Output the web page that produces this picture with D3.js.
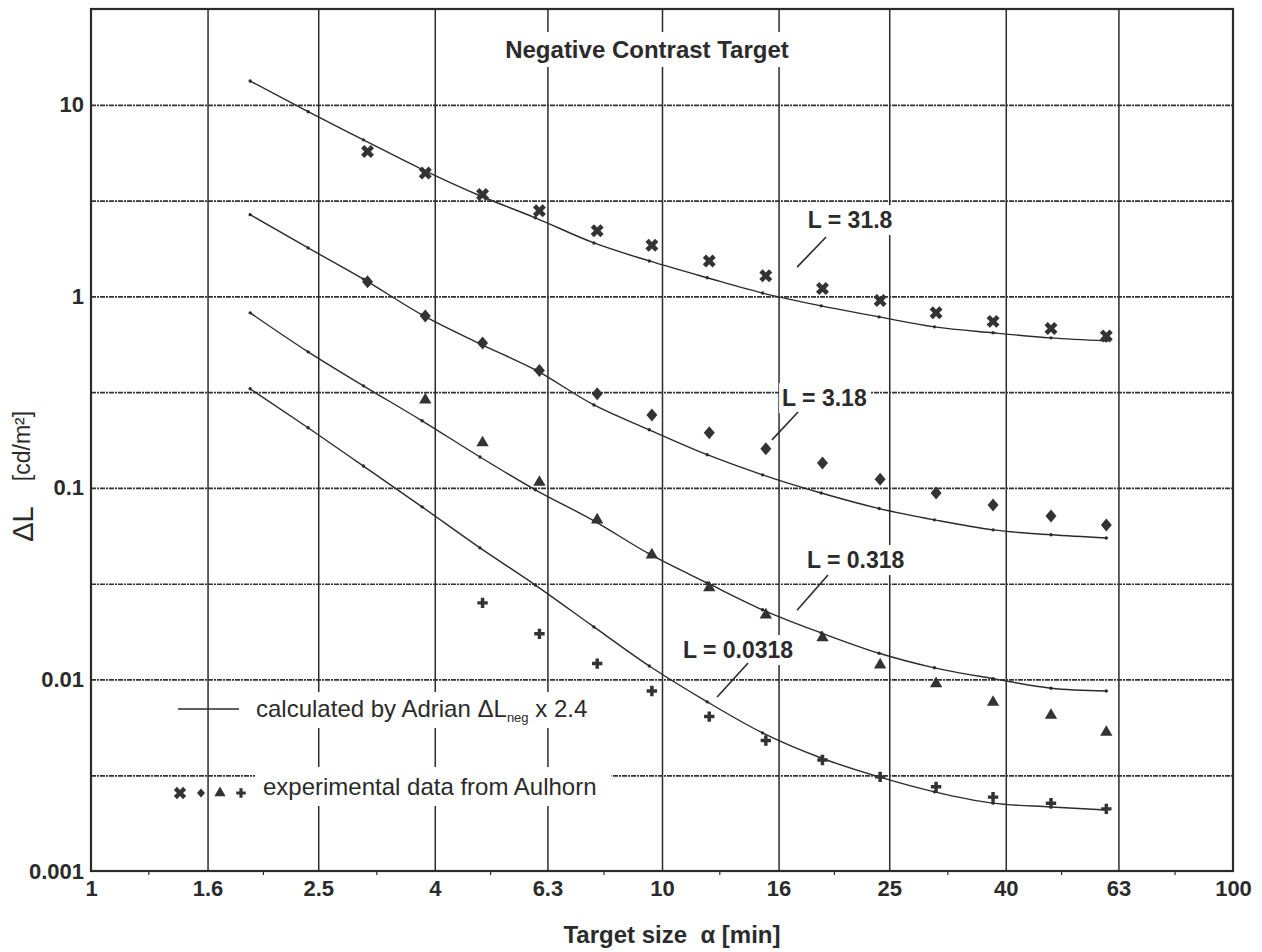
<!DOCTYPE html>
<html>
<head>
<meta charset="utf-8">
<script src="https://cdn.jsdelivr.net/npm/d3@7"></script>
<style>
  body { margin: 0; background: #fff; }
  svg { display: block; font-family: "Liberation Sans", Arial, sans-serif; }
</style>
</head>
<body>
<svg id="chart" width="1262" height="952"></svg>
<script>
// target size alpha [min] for the calculated curves and for the measured points
const calcX = [1.9, 2.4, 3.0, 3.8, 4.8, 6.0, 7.6, 9.5, 12, 15, 19, 24, 30, 38, 48, 60]
const expX = [3.05, 3.85, 4.85, 6.1, 7.7, 9.6, 12.1, 15.2, 19.1, 24.1, 30.2, 38, 48, 60]

// calculated by Adrian, dL_neg x 2.4
const calc31_8 = [13.3, 9.2, 6.56, 4.6, 3.35, 2.57, 1.9, 1.53, 1.25, 1.04, 0.892, 0.781, 0.693, 0.645, 0.607, 0.586]
const calc3_18 = [2.67, 1.79, 1.23, 0.80, 0.565, 0.413, 0.271, 0.201, 0.149, 0.117, 0.094, 0.078, 0.0681, 0.0604, 0.0569, 0.0548]
const calc0_318 = [0.82, 0.513, 0.341, 0.224, 0.145, 0.0977, 0.0673, 0.0452, 0.0319, 0.0231, 0.0175, 0.0137, 0.0115, 0.0101, 0.0090, 0.0087]
const calc0_0318 = [0.329, 0.206, 0.130, 0.0796, 0.0486, 0.0311, 0.0188, 0.01175, 0.00764, 0.00526, 0.00389, 0.0031, 0.00259, 0.00226, 0.00216, 0.00208]

// experimental data from Aulhorn
const exp31_8 = [5.7, 4.4, 3.4, 2.8, 2.2, 1.85, 1.53, 1.28, 1.1, 0.95, 0.82, 0.74, 0.68, 0.62]
const exp3_18 = [1.19, 0.79, 0.57, 0.41, 0.31, 0.24, 0.194, 0.16, 0.135, 0.111, 0.094, 0.0815, 0.0714, 0.064]
const exp0_318 = [null, 0.288, 0.172, 0.107, 0.068, 0.0447, 0.0301, 0.0217, 0.0165, 0.0119, 0.0095, 0.0076, 0.0065, 0.0053]
const exp0_0318 = [null, null, 0.0251, 0.0173, 0.0121, 0.0087, 0.0064, 0.0048, 0.0038, 0.0031, 0.00275, 0.00243, 0.00226, 0.00211]

const xTicks = [1, 1.6, 2.5, 4, 6.3, 10, 16, 25, 40, 63, 100]
const xMinor = [1.26, 2, 3.16, 5, 7.9, 12.6, 20, 31.6, 50, 79]
const yTicks = [0.001, 0.01, 0.1, 1, 10]
const yHalf = [0.00316, 0.0316, 0.316, 3.16]

// curve labels, placed in data units
const labels = [
  {text: "L = 31.8", x: 18.0, y: 2.50, from: [17.24, 1.42], to: [19.38, 2.04]},
  {text: "L = 3.18", x: 16.23, y: 0.294, from: [15.58, 0.178], to: [17.31, 0.249]},
  {text: "L = 0.318", x: 17.94, y: 0.042, from: [17.24, 0.023], to: [19.53, 0.0351]},
  {text: "L = 0.0318", x: 10.88, y: 0.01425, from: [12.49, 0.0081], to: [14.15, 0.01219]}
]

const pLeft = 91, pRight = 1233, pTop = 9, pBottom = 871
const ink = "#2b2b2b"

const svg = d3.select("#chart")
svg.append("rect").attr("width", 1262).attr("height", 952).attr("fill", "#fff")

const x = d3.scaleLog().domain([1, 100]).range([pLeft, pRight])
const y = d3.scaleLog().domain([0.001, Math.pow(10, 1.5)]).range([pBottom, pTop])

// grid
const grid = svg.append("g")
grid.append("g")
  .attr("transform", "translate(0," + pBottom + ")")
  .call(d3.axisBottom(x).tickValues(xTicks.slice(1, -1)).tickSize(-(pBottom - pTop)).tickFormat(""))
  .call(g => g.select(".domain").remove())
  .selectAll("line").attr("stroke", ink).attr("stroke-width", 1.5)

grid.append("g")
  .attr("transform", "translate(" + pLeft + ",0)")
  .call(d3.axisLeft(y).tickValues(yTicks.slice(1).concat(yHalf)).tickSize(-(pRight - pLeft)).tickFormat(""))
  .call(g => g.select(".domain").remove())
  .selectAll("line")
    .attr("stroke", "#333").attr("stroke-width", 1.7)
    .attr("stroke-dasharray", "5,1,2,1")

// white patches behind texts (filled later)
const masks = svg.append("g")

// minor ticks along the bottom
svg.append("g")
  .attr("transform", "translate(0," + pBottom + ")")
  .call(d3.axisBottom(x).tickValues(xMinor).tickSize(4).tickFormat(""))
  .call(g => g.select(".domain").remove())
  .selectAll("line").attr("stroke", ink).attr("stroke-width", 1.2)

// frame
svg.append("rect")
  .attr("x", pLeft).attr("y", pTop)
  .attr("width", pRight - pLeft).attr("height", pBottom - pTop)
  .attr("fill", "none").attr("stroke", ink).attr("stroke-width", 2.2)

// tick labels
svg.append("g")
  .attr("transform", "translate(0," + pBottom + ")")
  .call(d3.axisBottom(x).tickValues(xTicks).tickSize(0).tickPadding(9).tickFormat(d => d))
  .call(g => g.select(".domain").remove())
  .selectAll("text")
    .attr("font-size", 22).attr("font-weight", "bold").attr("fill", ink)
    .style("font-family", "Liberation Sans, Arial, sans-serif")

svg.append("g")
  .attr("transform", "translate(" + pLeft + ",0)")
  .call(d3.axisLeft(y).tickValues(yTicks).tickSize(0).tickPadding(7).tickFormat(d => d))
  .call(g => g.select(".domain").remove())
  .selectAll("text")
    .attr("font-size", 22).attr("font-weight", "bold").attr("fill", ink)
    .style("font-family", "Liberation Sans, Arial, sans-serif")

// calculated curves
const line = d3.line()
  .x(d => x(d[0]))
  .y(d => y(d[1]))
  .curve(d3.curveMonotoneX)

const calcSeries = [calc31_8, calc3_18, calc0_318, calc0_0318]
calcSeries.forEach(vals => {
  const pts = calcX.map((v, i) => [v, vals[i]])
  svg.append("path")
    .attr("d", line(pts))
    .attr("fill", "none").attr("stroke", ink).attr("stroke-width", 1.4)
  svg.append("g").selectAll("circle")
    .data(pts).join("circle")
    .attr("cx", d => x(d[0])).attr("cy", d => y(d[1]))
    .attr("r", 1.7).attr("fill", ink)
})

// experimental points
const diamond = (w, h) => "M0," + (-h) + "L" + w + ",0L0," + h + "L" + (-w) + ",0Z"
const shapes = [
  {vals: exp31_8, d: d3.symbol(d3.symbolCross, 105)(), rot: 45},
  {vals: exp3_18, d: diamond(5.5, 6.5), rot: 0},
  {vals: exp0_318, d: d3.symbol(d3.symbolTriangle, 66)(), rot: 0},
  {vals: exp0_0318, d: d3.symbol(d3.symbolCross, 60)(), rot: 0}
]
shapes.forEach(s => {
  const pts = expX.map((v, i) => [v, s.vals[i]]).filter(d => d[1] != null)
  svg.append("g").selectAll("path")
    .data(pts).join("path")
    .attr("d", s.d)
    .attr("transform", d => "translate(" + x(d[0]) + "," + y(d[1]) + ") rotate(" + s.rot + ")")
    .attr("fill", "#333")
})

// helper: white box behind a text so the grid breaks there
function maskText(sel, padX, padY, padR) {
  const b = sel.node().getBBox()
  masks.append("rect")
    .attr("x", b.x - padX).attr("y", b.y - padY)
    .attr("width", b.width + padX + (padR == null ? padX : padR))
    .attr("height", b.height + 2 * padY)
    .attr("fill", "#fff")
}

// title
const title = svg.append("text")
  .attr("x", 647).attr("y", 58)
  .attr("text-anchor", "middle")
  .attr("font-size", 24).attr("font-weight", "bold").attr("fill", ink)
  .text("Negative Contrast Target")
maskText(title, 6, 4)

// curve labels with leader lines
labels.forEach(l => {
  const t = svg.append("text")
    .attr("x", x(l.x)).attr("y", y(l.y) + 8)
    .attr("font-size", 23).attr("font-weight", "bold").attr("fill", ink)
    .text(l.text)
  maskText(t, 3, 2)
  svg.append("line")
    .attr("x1", x(l.from[0])).attr("y1", y(l.from[1]))
    .attr("x2", x(l.to[0])).attr("y2", y(l.to[1]))
    .attr("stroke", ink).attr("stroke-width", 1.6)
})

// legend
const leg = svg.append("g")
leg.append("line")
  .attr("x1", 178).attr("x2", 239).attr("y1", 709).attr("y2", 709)
  .attr("stroke", ink).attr("stroke-width", 1.6)
const t1 = leg.append("text")
  .attr("x", 256).attr("y", 717)
  .attr("font-size", 24).attr("fill", ink)
t1.append("tspan").text("calculated by Adrian ")
t1.append("tspan").text("\u0394L")
t1.append("tspan").attr("font-size", 13).attr("dy", 5).text("neg")
t1.append("tspan").attr("dy", -5).text(" x 2.4")
maskText(t1, 6, 3)

const legMarks = [
  {x: 180, d: d3.symbol(d3.symbolCross, 95)(), rot: 45},
  {x: 201, d: diamond(4, 4.5), rot: 0},
  {x: 220, d: d3.symbol(d3.symbolTriangle, 55)(), rot: 0},
  {x: 241, d: d3.symbol(d3.symbolCross, 50)(), rot: 0}
]
leg.selectAll("path.m").data(legMarks).join("path")
  .attr("class", "m")
  .attr("d", d => d.d)
  .attr("transform", d => "translate(" + d.x + ",793) rotate(" + d.rot + ")")
  .attr("fill", "#333")
const t2 = leg.append("text")
  .attr("x", 263).attr("y", 795)
  .attr("font-size", 24).attr("fill", ink)
  .text("experimental data from Aulhorn")
maskText(t2, 8, 6, 15)

// axis titles
svg.append("text")
  .attr("x", 672).attr("y", 943)
  .attr("text-anchor", "middle")
  .attr("font-size", 24).attr("font-weight", "bold").attr("fill", ink)
  .text("Target size\u00a0\u00a0\u03b1 [min]")

svg.append("text")
  .attr("transform", "translate(33,524) rotate(-90)")
  .attr("text-anchor", "middle")
  .attr("font-size", 29).attr("fill", ink)
  .text("\u0394L")
svg.append("text")
  .attr("transform", "translate(30,446) rotate(-90)")
  .attr("text-anchor", "middle")
  .attr("font-size", 23).attr("fill", ink)
  .text("[cd/m\u00b2]")
</script>
</body>
</html>
